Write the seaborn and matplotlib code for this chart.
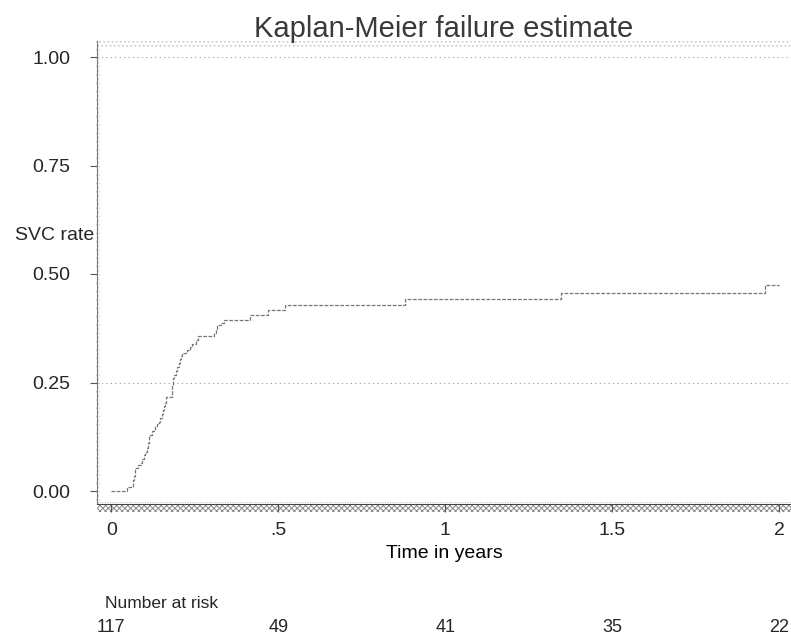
import numpy as np
import pandas as pd
import matplotlib
matplotlib.use("Agg")
import matplotlib.pyplot as plt
import matplotlib.transforms as mtransforms
from matplotlib.patches import Rectangle
import seaborn as sns

# Kaplan-Meier failure curve
times = [0.000, 0.046, 0.064, 0.066, 0.068, 0.070, 0.072, 0.080, 0.089, 0.093,
         0.097, 0.101, 0.107, 0.110, 0.112, 0.114, 0.122, 0.131, 0.137, 0.143,
         0.146, 0.151, 0.155, 0.158, 0.161, 0.163, 0.181, 0.182, 0.183, 0.185,
         0.186, 0.188, 0.193, 0.198, 0.203, 0.207, 0.209, 0.211, 0.226, 0.235,
         0.243, 0.255, 0.260, 0.308, 0.312, 0.317, 0.328, 0.338, 0.416, 0.468,
         0.520, 0.880, 1.347, 1.958, 2.000]
failure = [0.000, 0.009, 0.018, 0.026, 0.035, 0.044, 0.053, 0.059, 0.065, 0.074,
           0.082, 0.091, 0.100, 0.110, 0.120, 0.130, 0.139, 0.149, 0.155, 0.160,
           0.168, 0.177, 0.186, 0.195, 0.203, 0.216, 0.225, 0.234, 0.243, 0.252,
           0.260, 0.268, 0.277, 0.286, 0.295, 0.305, 0.312, 0.319, 0.325, 0.332,
           0.339, 0.347, 0.356, 0.364, 0.374, 0.383, 0.388, 0.394, 0.405, 0.416,
           0.429, 0.442, 0.456, 0.475, 0.475]

x_ticks = [0, 0.5, 1, 1.5, 2]
x_ticklabels = ["0", ".5", "1", "1.5", "2"]
y_ticks = [0, 0.25, 0.5, 0.75, 1.0]
y_ticklabels = ["0.00", "0.25", "0.50", "0.75", "1.00"]
grid_levels = [0.25, 1.0]

risk_times = [0, 0.5, 1, 1.5, 2]
at_risk = [117, 49, 41, 35, 22]

df = pd.DataFrame({"time": times, "failure": failure})

sns.set_theme(style="white")
plt.rcParams["font.family"] = ["Liberation Sans", "DejaVu Sans"]
plt.rcParams["hatch.linewidth"] = 0.7

fig = plt.figure(figsize=(7.91, 6.39), dpi=100)
ax = fig.add_axes([97 / 791, (639 - 504) / 639, 1 - 97 / 791, (504 - 41) / 639])

for lvl in grid_levels:
    ax.axhline(lvl, color="#9a9a9a", lw=0.8, ls=(0, (1, 3)), zorder=1)

sns.lineplot(data=df, x="time", y="failure", ax=ax, estimator=None,
             drawstyle="steps-post", color="#777777", lw=0.9, zorder=3)
ax.lines[-1].set_dashes([3, 1.2])

ax.set_xlim(-14.3 / 334, 679.7 / 334)
ax.set_ylim(-13 / 434, 450 / 434)
ax.set_xticks(x_ticks)
ax.set_xticklabels(x_ticklabels)
ax.set_yticks(y_ticks)
ax.set_yticklabels(y_ticklabels)
ax.tick_params(axis="y", direction="out", length=5, width=0.8, color="#555555",
               pad=14, labelsize=14, left=True)
ax.tick_params(axis="x", direction="out", length=6, width=0.8, color="#555555",
               pad=7, labelsize=14, bottom=True)

for s in ["top", "right"]:
    ax.spines[s].set_visible(False)
ax.spines["left"].set_color("#777777")
ax.spines["left"].set_linewidth(0.8)
ax.spines["bottom"].set_color("#444444")
ax.spines["bottom"].set_linewidth(0.8)

# stippled / hatched frame bands like the original
px_w = 694
px_h = 463
ax.add_patch(Rectangle((0, 1 - 6 / px_h), 1, 6 / px_h, transform=ax.transAxes,
                       facecolor="none", edgecolor="#c8c8c8", hatch="....",
                       lw=0, clip_on=False, zorder=0))
ax.add_patch(Rectangle((-1 / px_w, 0), 4 / px_w, 1, transform=ax.transAxes,
                       facecolor="none", edgecolor="#c8c8c8", hatch="....",
                       lw=0, clip_on=False, zorder=0))
ax.add_patch(Rectangle((0, -8 / px_h), 1, 7 / px_h, transform=ax.transAxes,
                       facecolor="none", edgecolor="#8a8a8a", hatch="xxxxxx",
                       lw=0, clip_on=False, zorder=0))
ax.plot([0, 1], [2 / px_h, 2 / px_h], transform=ax.transAxes, color="#aaaaaa",
        lw=0.6, ls=(0, (1, 2)), clip_on=False)

ax.set_title("Kaplan-Meier failure estimate", fontsize=21, color="#3a3a3a", pad=3)
ax.set_xlabel("Time in years", fontsize=14, labelpad=4, color="black")
ax.set_ylabel("")
fig.text(94 / 791, 1 - 236 / 639, "SVC rate", ha="right", va="center", fontsize=14)

fig.text(105 / 791, 1 - 604 / 639, "Number at risk", ha="left", va="center",
         fontsize=12.5)
trans = mtransforms.blended_transform_factory(ax.transData, fig.transFigure)
for t, n in zip(risk_times, at_risk):
    ax.text(t, 1 - 628 / 639, str(n), transform=trans, ha="center", va="center",
            fontsize=13, clip_on=False)

fig.savefig("out.png", dpi=100)
